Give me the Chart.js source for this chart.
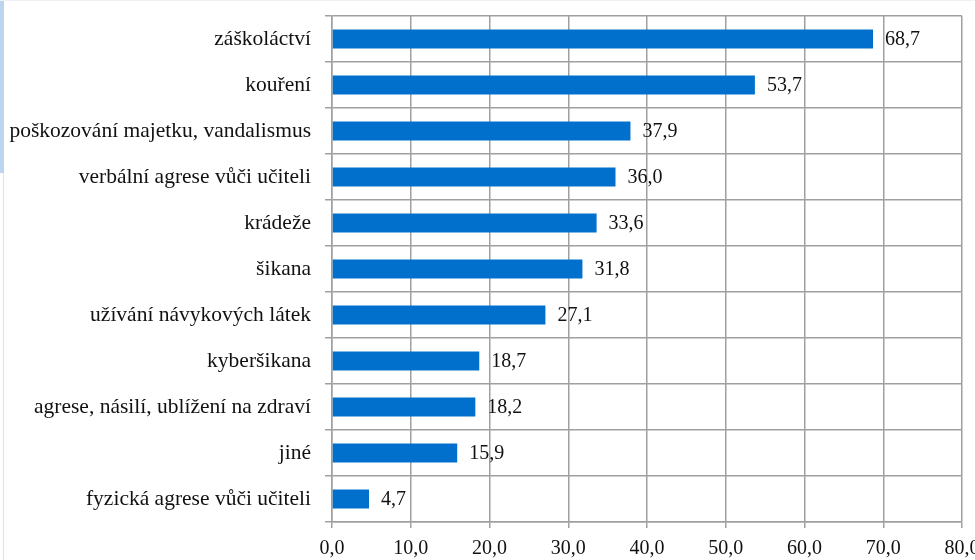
<!DOCTYPE html>
<html>
<head>
<meta charset="utf-8">
<script src="https://cdn.jsdelivr.net/npm/chart.js@4"></script>
<style>
  html, body { margin: 0; padding: 0; background: #fff; overflow: hidden; }
  #wrap { position: relative; width: 975px; height: 560px; overflow: hidden; }
  #box { position: absolute; left: 0; top: 0; width: 975px; height: 560px; }
  #strip { position: absolute; left: 0; top: 0; width: 4px; height: 173px; background: #bcd4ee; }
  #edge { position: absolute; left: 3px; top: 173px; width: 1px; height: 387px; background: #e2e2e2; }
  #topline { position: absolute; left: 0; top: 0; width: 975px; height: 1px; background: #eef0f4; }
</style>
</head>
<body>
<div id="wrap">
  <div id="box"><canvas id="chart"></canvas></div>
  <div id="strip"></div>
  <div id="edge"></div>
  <div id="topline"></div>
</div>
<script>
const categories = [
  "záškoláctví",
  "kouření",
  "poškozování majetku, vandalismus",
  "verbální agrese vůči učiteli",
  "krádeže",
  "šikana",
  "užívání návykových látek",
  "kyberšikana",
  "agrese, násilí, ublížení na zdraví",
  "jiné",
  "fyzická agrese vůči učiteli"
];
const values = [68.7, 53.7, 37.9, 36.0, 33.6, 31.8, 27.1, 18.7, 18.2, 15.9, 4.7];
const xTicks = [0, 10, 20, 30, 40, 50, 60, 70, 80];

const fontFamily = "'Liberation Serif', 'Times New Roman', serif";
const fontSize = 20;

function fmt(v) {
  return v.toFixed(1).replace(".", ",");
}

// value labels right of each bar
const valueLabels = {
  id: "valueLabels",
  afterDatasetsDraw(chart) {
    const c = chart.ctx;
    const meta = chart.getDatasetMeta(0);
    c.save();
    c.font = fontSize + "px " + fontFamily;
    c.fillStyle = "#111";
    c.textAlign = "left";
    c.textBaseline = "middle";
    meta.data.forEach((bar, i) => {
      c.fillText(fmt(values[i]), bar.x + 12, bar.y + 1);
    });
    c.restore();
  }
};

const ctx = document.getElementById("chart").getContext("2d");
new Chart(ctx, {
  type: "bar",
  data: {
    labels: categories,
    datasets: [{
      data: values,
      backgroundColor: "#0070cc",
      borderWidth: 0,
      barPercentage: 0.41,
      categoryPercentage: 1.0
    }]
  },
  options: {
    indexAxis: "y",
    responsive: true,
    maintainAspectRatio: false,
    animation: false,
    layout: { padding: { top: 16, left: 0, right: 13, bottom: 0 } },
    plugins: {
      legend: { display: false },
      tooltip: { enabled: false }
    },
    scales: {
      x: {
        min: 0,
        max: 80,
        afterBuildTicks(axis) {
          axis.ticks = xTicks.map(v => ({ value: v }));
        },
        ticks: {
          font: { family: fontFamily, size: fontSize },
          color: "#111",
          padding: 9,
          maxRotation: 0,
          callback: v => fmt(v)
        },
        grid: { color: "#a0a0a0", lineWidth: 1.5, tickLength: 6 },
        border: { color: "#a0a0a0", width: 1.5 },
        afterFit(axis) {
          axis.height = 38;
          axis.paddingLeft = 0;
          axis.paddingRight = 0;
        }
      },
      y: {
        ticks: {
          font: { family: fontFamily, size: 21.5 },
          color: "#111",
          padding: 14
        },
        grid: { color: "#a0a0a0", lineWidth: 1.5, tickLength: 7, offset: true },
        border: { color: "#a0a0a0", width: 1.5 },
        afterFit(axis) {
          axis.width = 332;
          axis.paddingTop = 0;
          axis.paddingBottom = 0;
        }
      }
    }
  },
  plugins: [valueLabels]
});
</script>
</body>
</html>
